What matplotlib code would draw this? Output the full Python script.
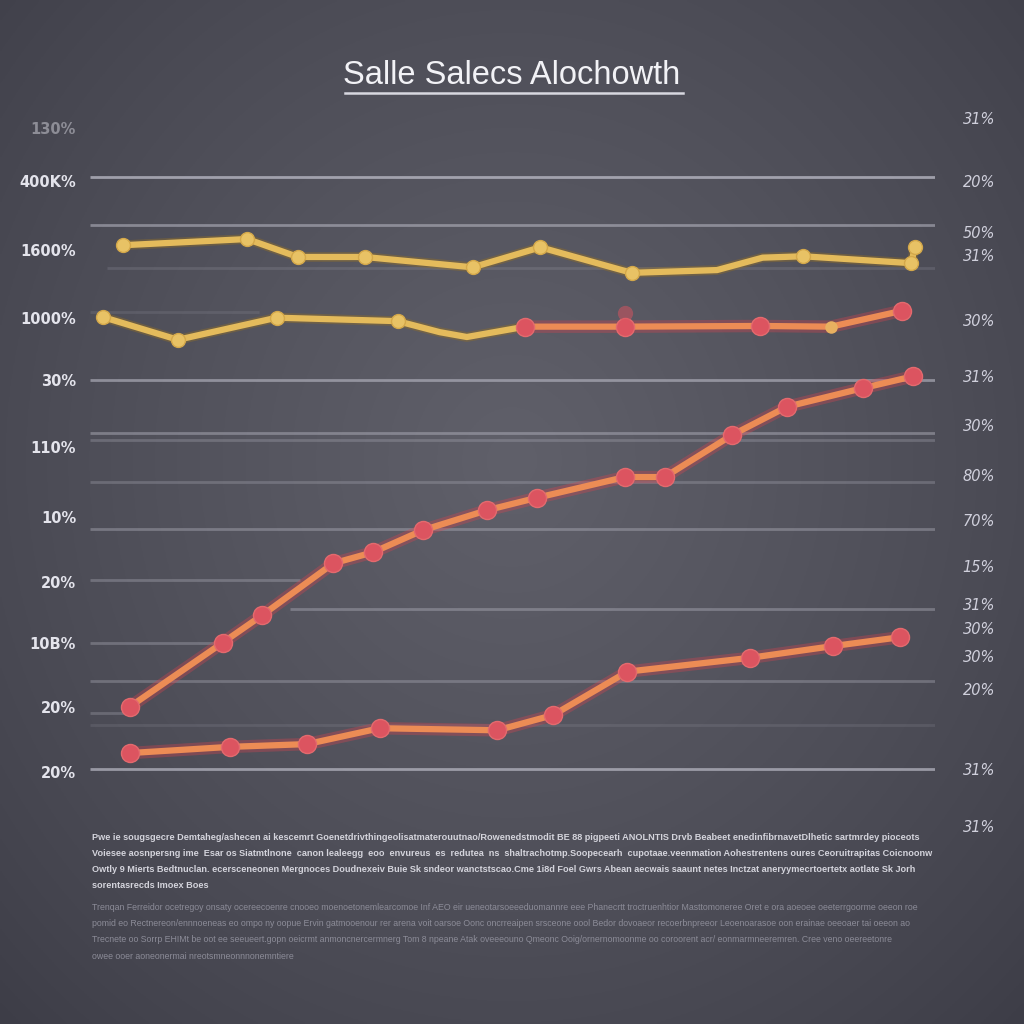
import numpy as np
import matplotlib.pyplot as plt
from matplotlib.lines import Line2D

# ---- data ----
title = "Salle Salecs Alochowth"

# upper yellow series
top_x = [3.9, 18.6, 24.6, 32.5, 45.3, 53.3, 64.1, 74.2, 79.6, 84.4, 97.2, 97.6]
top_y = [80.4, 81.3, 78.7, 78.7, 77.2, 80.1, 76.4, 76.8, 78.6, 78.8, 77.8, 80.1]
top_marks = [0, 1, 2, 3, 4, 5, 6, 9, 10, 11]

# second series: yellow first half, red second half
mid_yel_x = [1.5, 10.4, 22.1, 36.4, 41.4, 44.6, 51.5]
mid_yel_y = [70.0, 66.7, 69.9, 69.4, 67.8, 67.1, 68.6]
mid_yel_marks = [0, 1, 2, 3]
mid_red_x = [51.5, 63.3, 79.3, 87.7, 96.1]
mid_red_y = [68.6, 68.6, 68.7, 68.6, 70.9]
mid_red_marks = [0, 1, 2, 4]
ghost_x = [63.3]
ghost_y = [70.6]

# rising red series
rise_x = [4.7, 15.7, 20.4, 28.8, 33.5, 39.4, 47.0, 52.9, 63.3, 68.0, 76.0, 82.5, 91.5, 97.4]
rise_y = [13.5, 22.8, 26.8, 34.3, 35.9, 39.1, 42.0, 43.8, 46.8, 46.8, 52.9, 57.0, 59.7, 61.4]

# lower red series
low_x = [4.7, 16.6, 25.7, 34.3, 48.2, 54.8, 63.6, 78.1, 87.9, 95.9]
low_y = [6.8, 7.7, 8.1, 10.4, 10.1, 12.3, 18.6, 20.6, 22.3, 23.6]

left_ticks = [97.4, 89.7, 79.7, 69.9, 60.9, 51.2, 41.0, 31.6, 22.8, 13.5, 4.1]
left_labels = ["130%", "400K%", "1600%", "1000%", "30%", "110%", "10%", "20%", "10B%", "20%", "20%"]
right_ticks = [98.8, 89.7, 82.3, 79.0, 69.6, 61.4, 54.3, 47.1, 40.6, 33.9, 28.4, 24.9, 20.9, 16.1, 4.5, -3.8]
right_labels = ["31%", "20%", "50%", "31%", "30%", "31%", "30%", "80%", "70%", "15%",
                "31%", "30%", "30%", "20%", "31%", "31%"]

# horizontal rules: level, start, end, alpha
grid_y = [90.3, 83.3, 77.1, 70.7, 60.9, 53.2, 52.2, 46.1, 39.3, 31.9, 27.7, 22.8, 17.2, 12.6, 10.9, 4.5]
grid_x0 = [0, 0, 2, 0, 0, 0, 0, 0, 0, 0, 23.7, 0, 0, 0, 0, 0]
grid_x1 = [100, 100, 100, 20, 100, 100, 100, 100, 100, 24.9, 100, 15.4, 100, 4.7, 100, 100]
grid_a = [0.7, 0.5, 0.15, 0.12, 0.55, 0.4, 0.25, 0.25, 0.35, 0.3, 0.35, 0.3, 0.3, 0.25, 0.12, 0.65]

para1 = [
    "Pwe ie sougsgecre Demtaheg/ashecen ai kescemrt Goenetdrivthingeolisatmaterouutnao/Rowenedstmodit BE 88 pigpeeti ANOLNTIS Drvb Beabeet enedinfibrnavetDlhetic sartmrdey pioceots",
    "Voiesee aosnpersng ime  Esar os Siatmtlnone  canon lealeegg  eoo  envureus  es  redutea  ns  shaltrachotmp.Soopecearh  cupotaae.veenmation Aohestrentens oures Ceoruitrapitas Coicnoonw",
    "Owtly 9 Mierts Bedtnuclan. ecersceneonen Mergnoces Doudnexeiv Buie Sk sndeor wanctstscao.Cme 1i8d Foel Gwrs Abean aecwais saaunt netes Inctzat aneryymecrtoertetx aotlate Sk Jorh",
    "sorentasrecds Imoex Boes",
]
para2 = [
    "Trenqan Ferreidor ocetregoy onsaty ocereecoenre cnooeo moenoetonemlearcomoe Inf AEO eir ueneotarsoeeeduomannre eee Phanecrtt troctruenhtior Masttomoneree Oret e ora aoeoee oeeterrgoorme oeeon roe",
    "pomid eo Rectnereon/ennnoeneas eo ompo ny oopue Ervin gatmooenour rer arena voit oarsoe Oonc oncrreaipen srsceone oool Bedor dovoaeor recoerbnpreeor Leoenoarasoe oon erainae oeeoaer tai oeeon ao",
    "Trecnete oo Sorrp EHIMt be oot ee seeueert.gopn oeicrmt anmoncnercermnerg Tom 8 npeane Atak oveeeouno Qmeonc Ooig/ornernomoonme oo coroorent acr/ eonmarmneeremren. Cree veno oeereetonre",
    "owee ooer aoneonermai nreotsmneonnnonemntiere",
]

# ---- figure ----
fig = plt.figure(figsize=(10.24, 10.24), dpi=100)

# background: dark slate with soft vignette
bg = fig.add_axes([0, 0, 1, 1])
yy, xx = np.mgrid[0:1:400j, 0:1:400j]
r = np.sqrt(((xx - 0.5) / 0.75) ** 2 + ((yy - 0.45) / 0.8) ** 2)
shade = np.clip(1 - r, 0, 1) ** 0.8
c_in = np.array([0x60, 0x60, 0x6a]) / 255
c_out = np.array([0x3a, 0x3a, 0x44]) / 255
img = c_out + (c_in - c_out) * shade[..., None]
bg.imshow(img, extent=[0, 1, 0, 1], aspect="auto", origin="upper")
bg.axis("off")

ax = fig.add_axes([90 / 1024, 184 / 1024, 845 / 1024, 730 / 1024])
ax.set_facecolor("none")
ax.set_xlim(0, 100)
ax.set_ylim(-5.8, 100)
for s in ax.spines.values():
    s.set_visible(False)

for gy, g0, g1, ga in zip(grid_y, grid_x0, grid_x1, grid_a):
    ax.hlines(gy, g0, g1, color="#c4c4d0", lw=2, alpha=ga, zorder=1)


def yellow(x, y, marks):
    ax.plot(x, y, color="#8f6e2a", lw=7, alpha=0.45, solid_capstyle="round", zorder=3)
    ax.plot(x, y, color="#e4bb5c", lw=4.5, solid_capstyle="round", solid_joinstyle="round",
            marker="o", markevery=marks, ms=10, mfc="#e8c265", mec="#d4a84a", mew=1, zorder=4)


def red(x, y, marks=None):
    ax.plot(x, y, color="#d8434f", lw=9, alpha=0.35, solid_capstyle="round", zorder=3)
    ax.plot(x, y, color="#ec8c55", lw=4.5, solid_capstyle="round", solid_joinstyle="round", zorder=4)
    xs = x if marks is None else [x[i] for i in marks]
    ys = y if marks is None else [y[i] for i in marks]
    ax.plot(xs, ys, ls="none", marker="o", ms=13, mfc="#dc5460", mec="#e36a6e", mew=1, zorder=5)


yellow(top_x, top_y, top_marks)
yellow(mid_yel_x, mid_yel_y, mid_yel_marks)
red(mid_red_x, mid_red_y, mid_red_marks)
ax.plot([mid_red_x[3]], [mid_red_y[3]], ls="none", marker="o", ms=9, mfc="#e8b060", mec="none", zorder=5)
ax.plot(ghost_x, ghost_y, ls="none", marker="o", ms=11, mfc="#dc5460", mec="none", alpha=0.5, zorder=5)
red(rise_x, rise_y)
red(low_x, low_y)

ax.set_xticks([])
ax.set_yticks(left_ticks, left_labels, fontsize=10.5, fontweight="bold", color="#e4e4ec")
ax.tick_params(axis="y", length=0, pad=10)
ax.get_yticklabels()[0].set_alpha(0.45)

ax2 = ax.twinx()
ax2.set_ylim(ax.get_ylim())
for s in ax2.spines.values():
    s.set_visible(False)
ax2.set_yticks(right_ticks, right_labels, fontsize=10.5, fontstyle="italic", color="#d0d0dc")
ax2.tick_params(axis="y", length=0, pad=20)

# title with underline
fig.text(0.5, 1 - 76 / 1024, title, ha="center", va="center", fontsize=23.5,
         family="Liberation Sans", color="#f2f2f6")
fig.add_artist(Line2D([345 / 1024, 683 / 1024], [1 - 93 / 1024] * 2, color="#d8d8e0", lw=1.8))

# footer paragraphs
for i, line in enumerate(para1):
    fig.text(92 / 1024, 1 - (838 + i * 16) / 1024, line, fontsize=6.6, fontweight="bold",
             color="#d4d4dc", va="center", ha="left", family="Liberation Sans")
for i, line in enumerate(para2):
    fig.text(92 / 1024, 1 - (907 + i * 16.5) / 1024, line, fontsize=6.3,
             color="#8c8c98", va="center", ha="left", family="Liberation Sans")

fig.savefig("out.png", dpi=100)
